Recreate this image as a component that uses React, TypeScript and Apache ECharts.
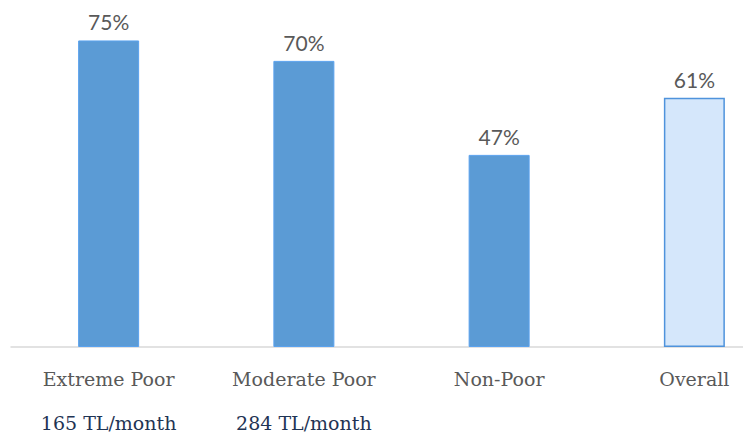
import React, { useEffect, useRef } from "react";
import * as echarts from "echarts";

const categories = ["Extreme Poor", "Moderate Poor", "Non-Poor", "Overall"];
const subLabels = ["165 TL/month", "284 TL/month", "", ""];
const values = [75, 70, 47, 61];

export default function App() {
  const ref = useRef<HTMLDivElement>(null);
  useEffect(() => {
    if (!ref.current) return;
    const chart = echarts.init(ref.current, null, { renderer: "svg" });
    const data = values.map((v, i) =>
      i === values.length - 1
        ? {
            value: v,
            itemStyle: { color: "#d5e7fb", borderColor: "#4f93dc", borderWidth: 1.5 },
          }
        : {
            value: v,
            itemStyle: { color: "#5b9bd5", borderColor: "#5aa2ee", borderWidth: 1 },
          }
    );
    chart.setOption({
      animation: false,
      grid: {
        left: 11,
        top: 20,
        width: 781,
        height: 327,
        containLabel: false,
        outerBoundsMode: "none",
      },
      xAxis: {
        type: "category",
        data: categories,
        axisLine: { show: true, lineStyle: { color: "#d9d9d9", width: 1.5 } },
        axisTick: { show: false },
        axisLabel: {
          margin: 10,
          interval: 0,
          formatter: (val: string, idx: number) =>
            subLabels[idx] ? `{a|${val}}\n{b|${subLabels[idx]}}` : `{a|${val}}`,
          rich: {
            a: {
              fontFamily: "DejaVu Serif",
              fontSize: 19,
              color: "#595959",
              lineHeight: 44,
            },
            b: {
              fontFamily: "DejaVu Serif",
              fontSize: 19,
              color: "#1f3454",
              lineHeight: 44,
            },
          },
        },
      },
      yAxis: {
        type: "value",
        min: 0,
        max: 80,
        show: false,
        splitLine: { show: false },
      },
      series: [
        {
          type: "bar",
          data,
          barWidth: 61,
          label: {
            show: true,
            position: "top",
            distance: 8,
            formatter: "{c}%",
            fontFamily: "Lato",
            fontSize: 21,
            color: "#595959",
          },
        },
      ],
    });
    return () => chart.dispose();
  }, []);
  return (
    <div
      ref={ref}
      style={{ position: "fixed", left: 0, top: 0, width: 743, height: 434, background: "#fff" }}
    />
  );
}
